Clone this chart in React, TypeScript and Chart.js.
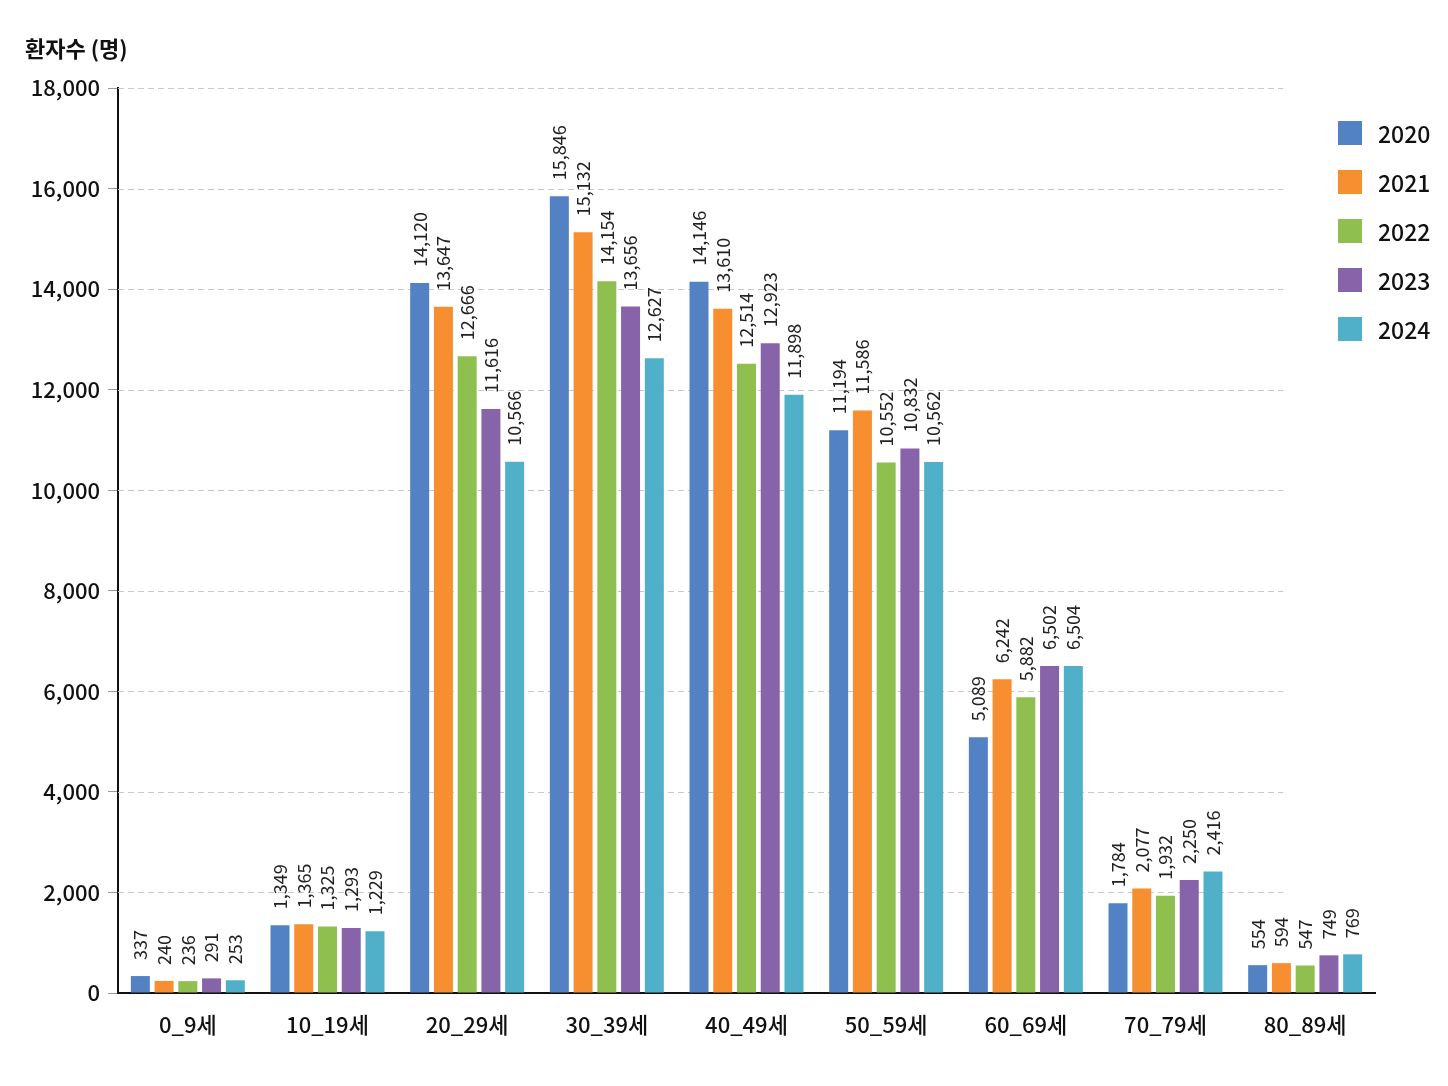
import React, { useEffect, useRef } from "react";
import { Chart, registerables } from "chart.js";

Chart.register(...registerables);

const ageGroups = ["0_9세", "10_19세", "20_29세", "30_39세", "40_49세", "50_59세", "60_69세", "70_79세", "80_89세"];
const years = ["2020", "2021", "2022", "2023", "2024"];
const patients2020 = [337, 1349, 14120, 15846, 14146, 11194, 5089, 1784, 554];
const patients2021 = [240, 1365, 13647, 15132, 13610, 11586, 6242, 2077, 594];
const patients2022 = [236, 1325, 12666, 14154, 12514, 10552, 5882, 1932, 547];
const patients2023 = [291, 1293, 11616, 13656, 12923, 10832, 6502, 2250, 749];
const patients2024 = [253, 1229, 10566, 12627, 11898, 10562, 6504, 2416, 769];
const yearColors = ["#5282C3", "#F78E30", "#8FBF4E", "#8763AA", "#50B0C9"];

const FONT = "'Noto Sans CJK KR', 'Noto Sans', sans-serif";

// rotated value labels above each bar
const barLabels = {
  id: "barLabels",
  afterDatasetsDraw(chart: any) {
    const ctx = chart.ctx;
    ctx.save();
    ctx.font = `18px ${FONT}`;
    ctx.fillStyle = "#222";
    ctx.textAlign = "left";
    ctx.textBaseline = "middle";
    chart.data.datasets.forEach((ds: any, i: number) => {
      const meta = chart.getDatasetMeta(i);
      meta.data.forEach((bar: any, j: number) => {
        ctx.save();
        ctx.translate(bar.x, bar.y - 16);
        ctx.rotate(-Math.PI / 2);
        ctx.fillText(ds.data[j].toLocaleString("en-US"), 0, 0);
        ctx.restore();
      });
    });
    ctx.restore();
  },
};

// dashed grid lines that stop short of the right edge, like the original
const dashedGrid = {
  id: "dashedGrid",
  beforeDatasetsDraw(chart: any) {
    const { ctx, chartArea } = chart;
    const y = chart.scales.y;
    const right = chartArea.left + (chartArea.right - chartArea.left) * 0.927;
    ctx.save();
    ctx.strokeStyle = "#c8c8c8";
    ctx.lineWidth = 1;
    ctx.setLineDash([6, 4]);
    y.ticks.forEach((t: any) => {
      if (t.value === 0) return;
      const py = Math.round(y.getPixelForValue(t.value)) + 0.5;
      ctx.beginPath();
      ctx.moveTo(chartArea.left, py);
      ctx.lineTo(right, py);
      ctx.stroke();
    });
    ctx.restore();
  },
};

const App = () => {
  const chartRef = useRef<HTMLCanvasElement | null>(null);

  useEffect(() => {
    document.body.style.margin = "0";
    if (!chartRef.current) return;
    const ctx = chartRef.current.getContext("2d");
    if (!ctx) return;

    const series = [patients2020, patients2021, patients2022, patients2023, patients2024];

    const myChart = new Chart(ctx, {
      type: "bar",
      data: {
        labels: ageGroups,
        datasets: years.map((yr, i) => ({
          label: yr,
          data: series[i],
          backgroundColor: yearColors[i],
          borderWidth: 0,
          categoryPercentage: 0.85,
          barPercentage: 0.8,
        })),
      },
      options: {
        responsive: false,
        animation: false,
        layout: { padding: { top: 88, right: 73, left: 0, bottom: 0 } },
        plugins: {
          legend: { display: false },
          tooltip: { enabled: false },
        },
        scales: {
          x: {
            grid: { display: false },
            border: { display: true, color: "#111", width: 2 },
            ticks: { color: "#111", font: { family: FONT, size: 22, weight: 500 }, padding: 10 },
            afterFit: (s: any) => {
              s.height = 93;
            },
          },
          y: {
            min: 0,
            max: 18000,
            ticks: {
              stepSize: 2000,
              color: "#111",
              font: { family: FONT, size: 22, weight: 500 },
              padding: 8,
              callback: (v: any) => Number(v).toLocaleString("en-US"),
            },
            grid: {
              drawOnChartArea: false,
              drawTicks: true,
              tickLength: 10,
              color: "#999",
            },
            border: { display: true, color: "#111", width: 2 },
            afterFit: (s: any) => {
              s.width = 118;
            },
          },
        },
      },
      plugins: [dashedGrid, barLabels],
    });

    return () => {
      myChart.destroy();
    };
  }, []);

  return (
    <div style={{ position: "relative", width: 1448, height: 1086, background: "#fff", fontFamily: FONT }}>
      <canvas ref={chartRef} width={1448} height={1086} />
      <div style={{ position: "absolute", left: 25, top: 31, fontSize: 22, fontWeight: 700, color: "#111" }}>
        환자수 (명)
      </div>
      <div style={{ position: "absolute", left: 1338, top: 108 }}>
        {years.map((yr, i) => (
          <div key={yr} style={{ display: "flex", alignItems: "center", height: 49 }}>
            <div style={{ width: 24, height: 24, background: yearColors[i], marginRight: 16 }} />
            <span style={{ fontSize: 23, fontWeight: 500, color: "#111" }}>{yr}</span>
          </div>
        ))}
      </div>
    </div>
  );
};

export default App;
